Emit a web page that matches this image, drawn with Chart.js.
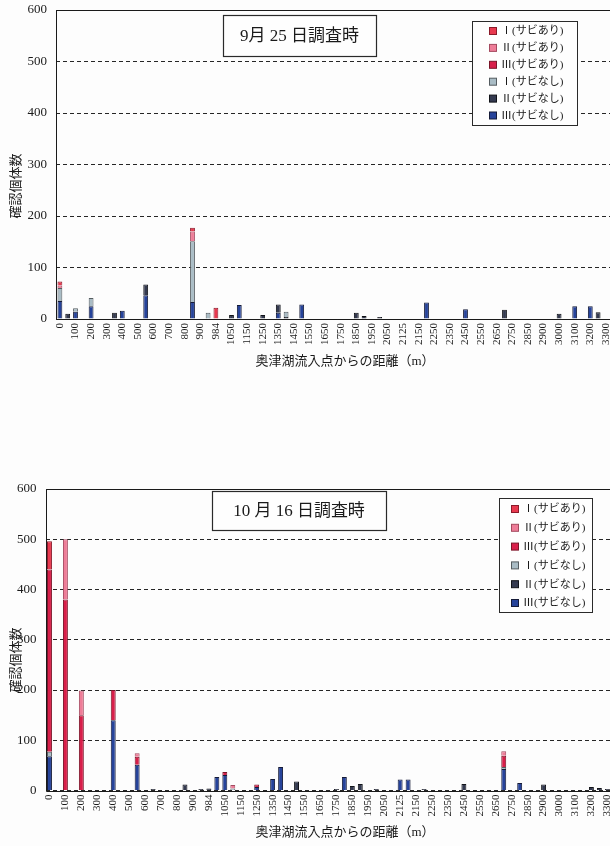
<!DOCTYPE html>
<html lang="ja">
<head>
<meta charset="utf-8">
<title>確認個体数</title>
<script src="https://cdn.jsdelivr.net/npm/chart.js@4.4.1/dist/chart.umd.min.js"></script>
<style>
  html, body { margin: 0; padding: 0; background: #fdfdfd; width: 610px; height: 846px; overflow: hidden; }
  .panel { position: absolute; left: 0; width: 640px; }
  #p1 { top: 0; height: 380px; }
  #p2 { top: 470px; height: 376px; }
</style>
</head>
<body>
<div class="panel" id="p1"><canvas id="c1" width="640" height="380"></canvas></div>
<div class="panel" id="p2"><canvas id="c2" width="640" height="376"></canvas></div>
<script>
// Survey points: distance from the Okutsu-ko inflow point (m)
const distances = [
  "0","50","100","150","200","250","300","350","400","450","500","550","600","650","700","750",
  "800","850","900","950","984","1000","1050","1100","1150","1200","1250","1300","1350","1400",
  "1450","1500","1550","1600","1650","1700","1750","1800","1850","1900","1950","2000","2050",
  "2100","2125","2140","2150","2200","2250","2300","2350","2400","2450","2500","2550","2600",
  "2650","2700","2750","2800","2850","2875","2900","2950","3000","3050","3100","3150","3200",
  "3250","3300","3350"
];
// Every other point carries a tick label
const tickLabels = distances.filter((d, i) => i % 2 === 0);

// Series names, in stacking order (bottom first)
const seriesNames = ["Ⅲ(サビなし)", "Ⅱ(サビなし)", "Ⅰ(サビなし)", "Ⅲ(サビあり)", "Ⅱ(サビあり)", "Ⅰ(サビあり)"];

// 9月25日 counts: [distance, individuals]
const sep_III_nashi = [["0",35],["100",14],["200",25],["400",16],["550",46],["850",33],["1100",27],["1350",12],["1500",28],["2200",32],["2450",19],["3100",25],["3200",25]];
const sep_II_nashi  = [["50",10],["350",12],["550",21],["1050",8],["1250",8],["1350",16],["1400",4],["1850",12],["1900",6],["2000",4],["2700",18],["3000",10],["3250",13]];
const sep_I_nashi   = [["0",25],["100",7],["200",16],["850",118],["950",12],["1400",10]];
const sep_III_ari   = [];
const sep_II_ari    = [["0",5],["850",19]];
const sep_I_ari     = [["0",8],["850",7],["984",22]];

// 10月16日 counts: [distance, individuals]
const oct_III_nashi = [["0",68],["400",140],["550",51],["1000",27],["1050",31],["1250",7],["1350",23],["1400",47],["1800",27],["2125",22],["2140",22],["2700",43],["2800",15]];
const oct_II_nashi  = [["650",3],["850",12],["950",3],["984",4],["1500",18],["1750",3],["1850",9],["1900",13],["2000",3],["2200",3],["2450",13],["2900",12],["3200",7],["3250",5],["3300",3]];
const oct_I_nashi   = [["0",9],["1100",4],["2700",4]];
const oct_III_ari   = [["0",363],["100",380],["200",150],["400",60],["550",16],["1050",6],["1250",5],["2700",22]];
const oct_II_ari    = [["100",120],["200",49],["550",7],["1100",7],["2700",9]];
const oct_I_ari     = [["0",56]];

// Fill / edge colours per series (same order as seriesNames)
const seriesFill = ["#26439a", "#343a50", "#a9bcc5", "#d81f4a", "#ee7d98", "#e8394f"];
const seriesEdge = ["#151b38", "#111318", "#555c60", "#7a1428", "#a44a60", "#8a1a2a"];

const dense = pairs => {
  const m = new Map(pairs);
  return distances.map(d => (m.has(d) ? m.get(d) : 0));
};

Chart.defaults.font.family = "'Liberation Serif', 'Noto Sans CJK JP', serif";
Chart.defaults.color = "#1a1a1a";

// Plot frame, caption box, legend box and axis titles
const panelDecor = {
  id: "panelDecor",
  beforeDatasetsDraw(chart) {
    const { ctx, chartArea: a } = chart;
    ctx.save();
    ctx.setLineDash([]);
    ctx.strokeStyle = "#1a1a1a";
    ctx.lineWidth = 1;
    const l = Math.round(a.left) + 0.5, t = Math.round(a.top) + 0.5;
    const b = Math.round(a.bottom) + 0.5, r = Math.round(a.right) + 0.5;
    ctx.beginPath();
    ctx.moveTo(l, b); ctx.lineTo(l, t); ctx.lineTo(r, t); ctx.lineTo(r, b); ctx.closePath();
    ctx.stroke();
    ctx.restore();
  },
  afterDraw(chart, args, o) {
    const ctx = chart.ctx;
    const fam = Chart.defaults.font.family;
    ctx.save();
    ctx.setLineDash([]);
    // caption
    const [tx0, ty0, tx1, ty1] = o.titleBox;
    ctx.fillStyle = "#fefefe";
    ctx.fillRect(tx0, ty0, tx1 - tx0, ty1 - ty0);
    ctx.strokeStyle = "#2a2a2a";
    ctx.lineWidth = 1.2;
    ctx.strokeRect(tx0 + 0.5, ty0 + 0.5, tx1 - tx0, ty1 - ty0);
    ctx.fillStyle = "#1a1a1a";
    ctx.font = `${o.titleSize}px ${fam}`;
    ctx.textAlign = "center";
    ctx.textBaseline = "middle";
    ctx.fillText(o.title, (tx0 + tx1) / 2, (ty0 + ty1) / 2 + 1);

    // legend, top of stack first
    const [lx0, ly0, lx1, ly1] = o.legendBox;
    ctx.fillStyle = "#fefefe";
    ctx.fillRect(lx0, ly0, lx1 - lx0, ly1 - ly0);
    ctx.strokeStyle = "#2a2a2a";
    ctx.lineWidth = 1;
    ctx.strokeRect(lx0 + 0.5, ly0 + 0.5, lx1 - lx0, ly1 - ly0);
    const sets = chart.data.datasets.slice().reverse();
    ctx.font = `${o.legendSize}px ${fam}`;
    ctx.textAlign = "left";
    sets.forEach((ds, i) => {
      const y = o.legendRow0 + i * o.legendStep;
      ctx.fillStyle = ds.backgroundColor;
      ctx.fillRect(o.swatchX - 3.5, y - 3.5, 7, 7);
      ctx.strokeStyle = ds.borderColor;
      ctx.strokeRect(o.swatchX - 3.5, y - 3.5, 7, 7);
      ctx.fillStyle = "#1a1a1a";
      ctx.fillText(ds.label, o.textX, y + 0.5);
    });

    // axis titles
    ctx.font = `${o.axisTitleSize}px ${fam}`;
    ctx.textAlign = "center";
    ctx.fillText("奥津湖流入点からの距離（m）", o.xTitle[0], o.xTitle[1]);
    ctx.translate(o.yTitle[0], o.yTitle[1]);
    ctx.rotate(-Math.PI / 2);
    ctx.fillText("確認個体数", 0, 0);
    ctx.restore();
  }
};

function buildChart(canvasId, values, deco, frame) {
  const datasets = seriesNames.map((name, k) => ({
    label: name,
    data: dense(values[k]),
    backgroundColor: seriesFill[k],
    borderColor: seriesEdge[k],
    borderWidth: 1,
    barPercentage: 0.62,
    categoryPercentage: 1
  }));
  const pad = { top: frame.top, right: 0, bottom: 0, left: 0 };
  const chart = new Chart(document.getElementById(canvasId), {
    type: "bar",
    data: { labels: distances, datasets },
    plugins: [panelDecor],
    options: {
      responsive: false,
      animation: false,
      layout: { padding: pad },
      plugins: {
        legend: { display: false },
        tooltip: { enabled: false },
        panelDecor: deco
      },
      scales: {
        x: {
          stacked: true,
          offset: true,
          grid: { display: false, drawTicks: false },
          border: { display: false },
          afterFit: s => { s.height = frame.axisH; s.paddingLeft = 0; s.paddingRight = 0; },
          ticks: {
            autoSkip: false,
            minRotation: 90,
            maxRotation: 90,
            padding: 4,
            font: { size: 11 },
            callback: (v, i) => (i % 2 === 0 ? tickLabels[i / 2] : "")
          }
        },
        y: {
          stacked: true,
          min: 0,
          max: 600,
          afterFit: s => { s.width = frame.left; s.paddingTop = 0; s.paddingBottom = 0; },
          grid: { color: "#262626", lineWidth: 1, drawTicks: false },
          border: { display: false, dash: [4, 3] },
          ticks: { stepSize: 100, padding: 9, font: { size: 13 } }
        }
      }
    }
  });
  // settle the plot rectangle on the wanted edges
  for (let k = 0; k < 3; k++) {
    const a = chart.chartArea, H = chart.height, W = chart.width;
    pad.top += frame.top - a.top;
    pad.right += a.right - frame.right;
    pad.bottom += a.bottom - frame.bottom;
    chart.update();
  }
  return chart;
}

buildChart("c1",
  [sep_III_nashi, sep_II_nashi, sep_I_nashi, sep_III_ari, sep_II_ari, sep_I_ari],
  {
    title: "9月 25 日調査時", titleSize: 17, titleBox: [223, 15, 376, 56],
    legendBox: [472, 21, 577, 125], legendRow0: 31, legendStep: 16.9, swatchX: 493, textX: 501, legendSize: 11,
    axisTitleSize: 13, xTitle: [345, 362], yTitle: [17, 186]
  },
  { top: 10, bottom: 319, left: 56, right: 617.6, axisH: 50 }
);

buildChart("c2",
  [oct_III_nashi, oct_II_nashi, oct_I_nashi, oct_III_ari, oct_II_ari, oct_I_ari],
  {
    title: "10 月 16 日調査時", titleSize: 17, titleBox: [212, 21, 386, 60],
    legendBox: [499, 28, 592, 142], legendRow0: 39, legendStep: 18.8, swatchX: 515, textX: 523, legendSize: 11,
    axisTitleSize: 13, xTitle: [345, 363], yTitle: [17, 190]
  },
  { top: 19, bottom: 320.5, left: 45.5, right: 619.3, axisH: 50 }
);
</script>
</body>
</html>
